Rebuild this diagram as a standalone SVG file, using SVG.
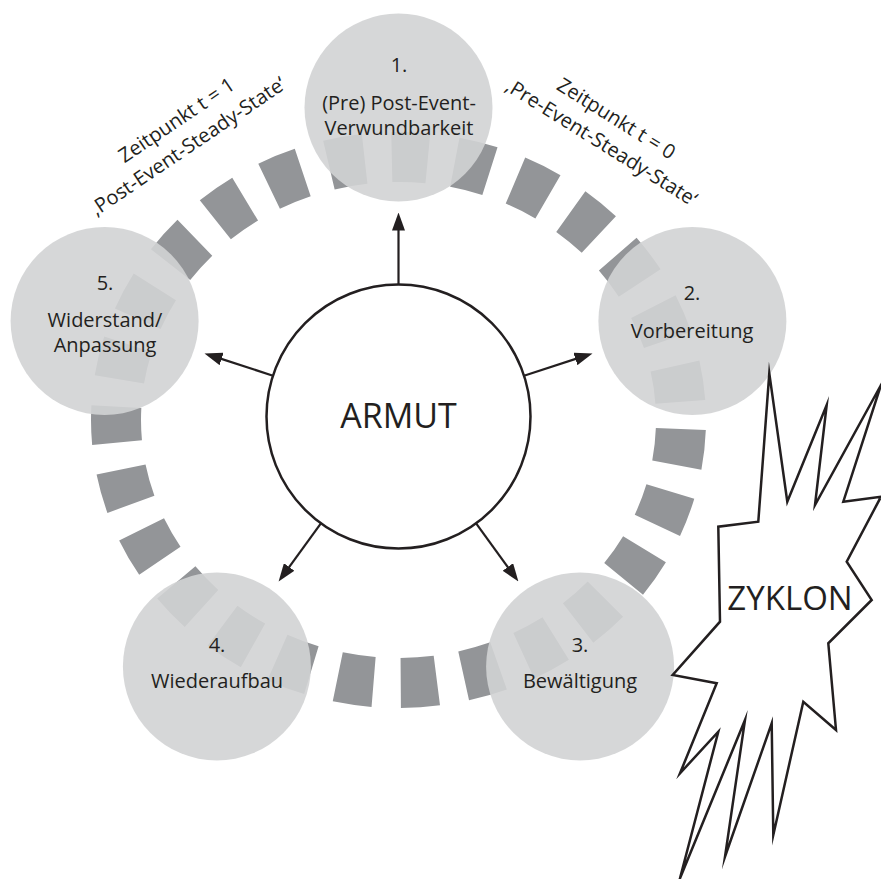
<svg xmlns="http://www.w3.org/2000/svg" width="881" height="879" viewBox="0 0 881 879">
<defs>
<style>
.ring{fill:none;stroke:#939598;stroke-width:50;stroke-dasharray:36 27;stroke-dashoffset:54}
.node{fill:#d1d3d4;fill-opacity:0.9}
.t{font-family:"Open Sans","Liberation Sans",sans-serif;font-size:20px;fill:#231f20;text-anchor:middle}
.big{font-size:34px}
.conn line{stroke:#231f20;stroke-width:2.2;marker-end:url(#arr)}
</style>
<marker id="arr" viewBox="0 0 18 13" refX="10" refY="6.5" markerWidth="18" markerHeight="13" markerUnits="userSpaceOnUse" orient="auto">
<path d="M0,0 L18,6.5 L0,13 Z" fill="#231f20"/>
</marker>
</defs>
<rect width="881" height="879" fill="#ffffff"/>
<g id="ring">
<path class="ring" pathLength="1701" d="M681,420 A282.5,263 0 0 1 116,420 A282.5,263 0 0 1 681,420 Z"/>
</g>
<g id="node1"><circle class="node" cx="398.5" cy="107.5" r="94"/>
<text class="t" x="399" y="72">1.</text><text class="t" x="399" y="110">(Pre) Post-Event-</text><text class="t" x="399" y="135">Verwundbarkeit</text></g>
<g id="node2"><circle class="node" cx="692.4" cy="321" r="94"/>
<text class="t" x="692" y="300">2.</text><text class="t" x="692" y="338">Vorbereitung</text></g>
<g id="node3"><circle class="node" cx="580.1" cy="666.5" r="94"/>
<text class="t" x="580" y="652">3.</text><text class="t" x="580" y="688">Bewältigung</text></g>
<g id="node4"><circle class="node" cx="216.9" cy="666.5" r="94"/>
<text class="t" x="217" y="652">4.</text><text class="t" x="217" y="688">Wiederaufbau</text></g>
<g id="node5"><circle class="node" cx="104.6" cy="321" r="94"/>
<text class="t" x="105" y="290">5.</text><text class="t" x="105" y="327">Widerstand/</text><text class="t" x="105" y="352">Anpassung</text></g>
<g id="armut"><circle cx="398.5" cy="416.5" r="132" fill="#ffffff" stroke="#231f20" stroke-width="2.5"/>
<text class="t big" x="398.5" y="428">ARMUT</text></g>
<g id="connectors" class="conn">
<line x1="398.5" y1="284.5" x2="398.5" y2="220.5"/>
<line x1="524" y1="375.7" x2="584.9" y2="355.9"/>
<line x1="273" y1="375.7" x2="212.1" y2="355.9"/>
<line x1="476.1" y1="523.3" x2="513.7" y2="575.1"/>
<line x1="320.9" y1="523.3" x2="283.3" y2="575.1"/>
</g>
<g id="label-t1" transform="translate(176.5,120) rotate(-34)">
<text class="t" x="0" y="7">Zeitpunkt t = 1</text>
<text class="t" x="-5" y="35">‚Post-Event-Steady-State‘</text>
</g>
<g id="label-t0" transform="translate(616.5,118.5) rotate(32)">
<text class="t" x="0" y="7">Zeitpunkt t = 0</text>
<text class="t" x="0" y="35">‚Pre-Event-Steady-State‘</text>
</g>
<g id="zyklon">
<polygon points="769.3,373.3 787.3,501.7 826.7,405 815,505 881,385 843.3,501.7 881,496.7 846.7,561.7 871.7,600 828.3,643.3 836,730 803.3,701.7 773.3,835 771.7,723.3 725,856.7 745,720 680,878.3 718.3,731.7 680,773.3 716.7,683.3 672.7,675 720,621.7 718.3,526.7 758.3,521.7" fill="#ffffff" stroke="#231f20" stroke-width="2.5" stroke-linejoin="miter" stroke-miterlimit="20"/>
<text class="t" x="790" y="610" style="font-size:33px">ZYKLON</text>
</g>
</svg>
